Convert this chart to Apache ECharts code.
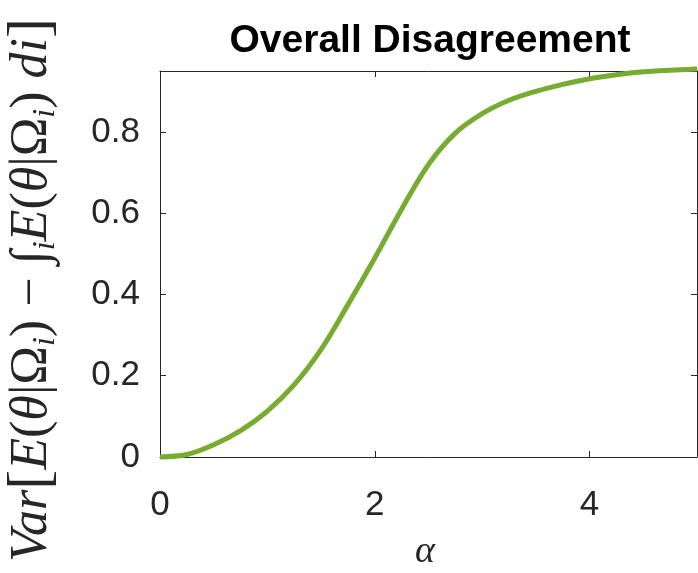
<!DOCTYPE html>
<html>
<head>
<meta charset="utf-8">
<script src="https://cdn.jsdelivr.net/npm/echarts@6/dist/echarts.min.js"></script>
<style>
  html, body { margin: 0; padding: 0; background: #fff; }
  #chart { width: 698px; height: 573px; }
</style>
</head>
<body>
<div id="chart"></div>
<script>
// alpha values and the overall disagreement curve
const alphaValues = [0, 0.25, 0.5, 0.75, 1.0, 1.25, 1.5, 1.75, 2.0, 2.25, 2.5,
                     2.75, 3.0, 3.25, 3.5, 3.75, 4.0, 4.25, 4.5, 4.75, 5.0];
const disagreement = [0, 0.006, 0.03, 0.065, 0.113, 0.178, 0.265, 0.375, 0.49, 0.610, 0.720,
                      0.797, 0.845, 0.878, 0.900, 0.917, 0.931, 0.941, 0.948, 0.952, 0.955];
const xTicks = [0, 2, 4];
const yTicks = [0, 0.2, 0.4, 0.6, 0.8];
const titleText = 'Overall Disagreement';

const axisColor = '#262626';
const lineColor = '#77AC30';
const sans = 'Liberation Sans, Arial, sans-serif';
const serif = 'Liberation Serif, serif';

const chart = echarts.init(document.getElementById('chart'), null, { renderer: 'canvas' });

const seriesData = alphaValues.map((a, i) => [a, disagreement[i]]);

const baseX = {
  type: 'value', min: 0, max: 5,
  axisLine: { show: true, onZero: false, lineStyle: { color: axisColor, width: 1 } },
  axisTick: { show: true, inside: true, length: 6, customValues: xTicks, lineStyle: { color: axisColor } },
  splitLine: { show: false }
};
const baseY = {
  type: 'value', min: 0, max: 0.95,
  axisLine: { show: true, onZero: false, lineStyle: { color: axisColor, width: 1 } },
  axisTick: { show: true, inside: true, length: 6, customValues: yTicks, lineStyle: { color: axisColor } },
  splitLine: { show: false }
};

chart.setOption({
  animation: false,
  backgroundColor: '#ffffff',
  grid: { left: 160, top: 71, width: 537, height: 386, containLabel: false },
  xAxis: [
    Object.assign({}, baseX, {
      position: 'bottom',
      axisLabel: { show: true, customValues: xTicks, margin: 31, color: axisColor,
                   fontFamily: sans, fontSize: 35 }
    }),
    Object.assign({}, baseX, { position: 'top', axisLabel: { show: false } })
  ],
  yAxis: [
    Object.assign({}, baseY, {
      position: 'left',
      axisLabel: { show: true, customValues: yTicks, margin: 20, color: axisColor,
                   fontFamily: sans, fontSize: 35 }
    }),
    Object.assign({}, baseY, { position: 'right', axisLabel: { show: false } })
  ],
  series: [{
    type: 'line',
    data: seriesData,
    smooth: 0.35,
    showSymbol: false,
    clip: false,
    lineStyle: { color: lineColor, width: 5 },
    z: 3
  }],
  graphic: [
    {
      type: 'text',
      x: 430, y: 41,
      style: {
        text: titleText, align: 'center', verticalAlign: 'middle',
        fontFamily: sans, fontWeight: 'bold', fontSize: 39, fill: '#000'
      }
    },
    {
      type: 'text',
      x: 425, y: 552,
      style: {
        text: 'α', align: 'center', verticalAlign: 'middle',
        fontFamily: serif, fontStyle: 'italic', fontSize: 38, fill: '#262626'
      }
    },
    {
      type: 'text',
      x: 32, y: 290,
      rotation: Math.PI / 2,
      style: {
        align: 'center', verticalAlign: 'middle',
        text: '{it|Var}{br|[}{it|E}{up|(}{it|θ}{up||Ω}{sub|i}{up|) − ∫}{sub|i}{it|E}{up|(}{it|θ}{up||Ω}{sub|i}{up|) }{it|di}{br|]}',
        fill: '#262626',
        rich: {
          it: { fontFamily: serif, fontStyle: 'italic', fontSize: 52, fill: '#262626' },
          up: { fontFamily: serif, fontSize: 52, fill: '#262626' },
          br: { fontFamily: serif, fontSize: 60, fill: '#262626' },
          sub: { fontFamily: serif, fontStyle: 'italic', fontSize: 32,
                 verticalAlign: 'bottom', fill: '#262626' }
        }
      }
    }
  ]
});
</script>
</body>
</html>
